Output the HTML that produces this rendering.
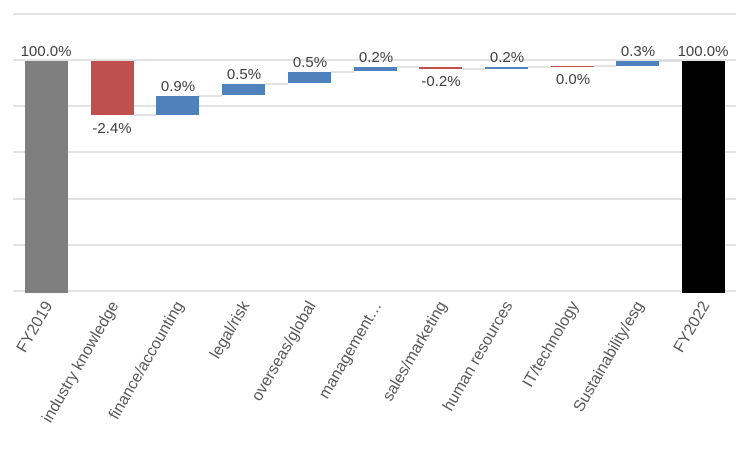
<!DOCTYPE html>
<html><head><style>body{margin:0;background:#fff}</style></head><body>
<svg width="751" height="451" xmlns="http://www.w3.org/2000/svg" font-family="Liberation Sans, sans-serif">
<g stroke="#d9d9d9" stroke-width="1.5">
<line x1="13" y1="14" x2="736" y2="14"/><line x1="13" y1="60" x2="736" y2="60"/><line x1="13" y1="106" x2="736" y2="106"/><line x1="13" y1="152" x2="736" y2="152"/><line x1="13" y1="199" x2="736" y2="199"/><line x1="13" y1="245" x2="736" y2="245"/><line x1="13" y1="291" x2="736" y2="291"/>
</g>
<g stroke="#d9d9d9" stroke-width="1.5">
<line x1="134" y1="115" x2="156" y2="115"/><line x1="199" y1="96" x2="222" y2="96"/><line x1="265" y1="84" x2="288" y2="84"/><line x1="331" y1="72" x2="354" y2="72"/><line x1="397" y1="67" x2="419" y2="67"/><line x1="462" y1="69" x2="485" y2="69"/><line x1="528" y1="67" x2="551" y2="67"/><line x1="594" y1="66" x2="616" y2="66"/><line x1="659" y1="61" x2="682" y2="61"/>
</g>
<rect x="25" y="61" width="43" height="232" fill="#7f7f7f"/>
<rect x="91" y="61" width="43" height="54" fill="#c0504d"/>
<rect x="156" y="96" width="43" height="19" fill="#4f81bd"/>
<rect x="222" y="84" width="43" height="11" fill="#4f81bd"/>
<rect x="288" y="72" width="43" height="11" fill="#4f81bd"/>
<rect x="354" y="67" width="43" height="4" fill="#4f81bd"/>
<rect x="419" y="67" width="43" height="2" fill="#c0504d"/>
<rect x="485" y="67" width="43" height="2" fill="#4f81bd"/>
<rect x="551" y="66" width="43" height="1" fill="#c0504d"/>
<rect x="616" y="61" width="43" height="5" fill="#4f81bd"/>
<rect x="682" y="61" width="43" height="232" fill="#000"/>
<g font-size="15" fill="#404040" text-anchor="middle">
<text x="46" y="56">100.0%</text><text x="112" y="133">-2.4%</text><text x="178" y="91">0.9%</text><text x="244" y="79">0.5%</text><text x="310" y="67">0.5%</text><text x="376" y="62">0.2%</text><text x="441" y="86">-0.2%</text><text x="507" y="62">0.2%</text><text x="573" y="84">0.0%</text><text x="638" y="56">0.3%</text><text x="703" y="56">100.0%</text>
</g>
<g font-size="16" fill="#595959" text-anchor="end">
<text transform="translate(53,305) rotate(-60)">FY2019</text>
<text transform="translate(119,305) rotate(-60)">industry knowledge</text>
<text transform="translate(184,305) rotate(-60)">finance/accounting</text>
<text transform="translate(250,305) rotate(-60)">legal/risk</text>
<text transform="translate(316,305) rotate(-60)">overseas/global</text>
<text transform="translate(382,305) rotate(-60)">management…</text>
<text transform="translate(447,305) rotate(-60)">sales/marketing</text>
<text transform="translate(513,305) rotate(-60)">human resources</text>
<text transform="translate(579,305) rotate(-60)">IT/technology</text>
<text transform="translate(644,305) rotate(-60)">Sustainability/esg</text>
<text transform="translate(710,305) rotate(-60)">FY2022</text>
</g>
</svg>
</body></html>
